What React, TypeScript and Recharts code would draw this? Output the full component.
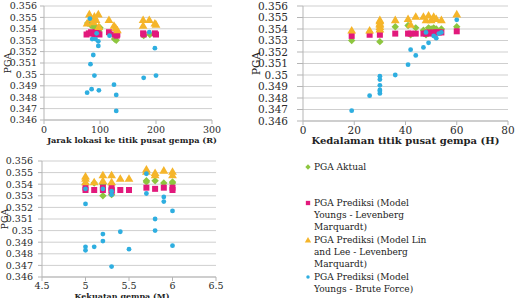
import React from "react";
import { ScatterChart, Scatter, XAxis, YAxis, CartesianGrid, Label } from "recharts";

type Pair = [number, number];

const serif = "DejaVu Serif, serif";
const textColor = "#2b2b2b";

const pgaTicks = [0.346, 0.347, 0.348, 0.349, 0.35, 0.351, 0.352, 0.353, 0.354, 0.355, 0.356];
const jarakTicks = [0, 100, 200, 300];
const kedalamanTicks = [0, 20, 40, 60, 80];
const kekuatanTicks = [4.5, 5, 5.5, 6, 6.5];

const seriesNames = [
  "PGA Aktual",
  "PGA Prediksi (Model\nYoungs - Levenberg\nMarquardt)",
  "PGA Prediksi (Model Lin\nand Lee - Levenberg\nMarquardt)",
  "PGA Prediksi (Model\nYoungs - Brute Force)",
];
const seriesColors = ["#8DC63F", "#E2197C", "#F5B52A", "#2EAEE0"];

// Jarak lokasi ke titik pusat gempa (R)
const jarakAktual: Pair[] = [
  [78, 0.3545], [84, 0.3543], [88, 0.3542], [92, 0.3542], [95, 0.354], [98, 0.3538],
  [100, 0.3541], [126, 0.3531], [129, 0.353], [178, 0.3534], [189, 0.3535],
];
const jarakYoungsLM: Pair[] = [
  [76, 0.3535], [80, 0.3536], [84, 0.3537], [88, 0.3536], [90, 0.3535], [93, 0.3537],
  [96, 0.3536], [99, 0.3535], [116, 0.3537], [126, 0.3535], [130, 0.3534], [131, 0.3535],
  [177, 0.3536], [178, 0.3535], [198, 0.3536], [200, 0.3535],
];
const jarakLinLeeLM: Pair[] = [
  [77, 0.3545], [81, 0.3553], [84, 0.3549], [88, 0.3546], [90, 0.3551], [93, 0.3548],
  [97, 0.3553], [98, 0.3542], [116, 0.3548], [125, 0.3543], [128, 0.3541], [131, 0.3539],
  [177, 0.3548], [177, 0.3543], [188, 0.3548], [198, 0.3545], [200, 0.3544],
];
const jarakYoungsBF: Pair[] = [
  [77, 0.3484], [82, 0.3549], [83, 0.3509], [85, 0.3487], [86, 0.3531], [88, 0.3517],
  [90, 0.3499], [92, 0.3531], [94, 0.3536], [97, 0.3529], [97, 0.3525], [98, 0.3486],
  [117, 0.3534], [125, 0.3491], [129, 0.3482], [129, 0.3468], [178, 0.3497], [188, 0.3537],
  [198, 0.3523], [200, 0.3499],
];

// Kedalaman titik pusat gempa (H)
const kedalamanAktual: Pair[] = [
  [19, 0.353], [26, 0.3537], [30, 0.3538], [30, 0.3529], [36, 0.3542], [41, 0.3543],
  [42, 0.3535], [44, 0.3541], [47, 0.3539], [48, 0.3535], [49, 0.3541], [50, 0.354],
  [51, 0.3541], [52, 0.354], [54, 0.354], [60, 0.3542],
];
const kedalamanYoungsLM: Pair[] = [
  [19, 0.3534], [26, 0.3535], [30, 0.3535], [36, 0.3536], [41, 0.3536], [42, 0.3536],
  [44, 0.3536], [47, 0.3536], [48, 0.3536], [49, 0.3537], [50, 0.3536], [51, 0.3537],
  [52, 0.3537], [53, 0.3537], [54, 0.3537], [60, 0.3538],
];
const kedalamanLinLeeLM: Pair[] = [
  [19, 0.3539], [26, 0.3539], [30, 0.354], [30, 0.3542], [30, 0.3544], [30, 0.3545],
  [30, 0.3547], [30, 0.3548], [36, 0.3548], [41, 0.3549], [42, 0.3544], [44, 0.3551],
  [47, 0.3551], [48, 0.3548], [49, 0.3552], [50, 0.3548], [51, 0.3551], [52, 0.3549],
  [54, 0.3548], [60, 0.3553],
];
const kedalamanYoungsBF: Pair[] = [
  [19, 0.3469], [26, 0.3482], [30, 0.3484], [30, 0.3486], [30, 0.3487], [30, 0.3491],
  [30, 0.3496], [30, 0.3499], [36, 0.35], [41, 0.3509], [42, 0.3522], [44, 0.3517],
  [47, 0.3524], [48, 0.3537], [49, 0.3528], [51, 0.3534], [52, 0.3532], [53, 0.3536],
  [54, 0.3537], [60, 0.3548],
];

// Kekuatan gempa (M)
const kekuatanAktual: Pair[] = [
  [5, 0.354], [5.1, 0.3541], [5.2, 0.354], [5.2, 0.353], [5.3, 0.354], [5.3, 0.3531],
  [5.7, 0.3543], [5.7, 0.3542], [5.8, 0.3543], [5.9, 0.3541], [6, 0.3542], [6, 0.3541],
];
const kekuatanYoungsLM: Pair[] = [
  [5, 0.3537], [5, 0.3535], [5.1, 0.3535], [5.2, 0.3537], [5.2, 0.3535], [5.3, 0.3537],
  [5.3, 0.3535], [5.3, 0.3534], [5.4, 0.3535], [5.5, 0.3535], [5.7, 0.3537], [5.8, 0.3536],
  [5.9, 0.3537], [6, 0.3537], [6, 0.3535],
];
const kekuatanLinLeeLM: Pair[] = [
  [5, 0.3547], [5, 0.3545], [5, 0.3542], [5.1, 0.3542], [5.2, 0.3548], [5.2, 0.3543],
  [5.3, 0.3548], [5.3, 0.3542], [5.4, 0.3545], [5.5, 0.3545], [5.7, 0.3553], [5.7, 0.3551],
  [5.8, 0.355], [5.8, 0.3548], [5.9, 0.3552], [6, 0.3551], [6, 0.3548],
];
const kekuatanYoungsBF: Pair[] = [
  [5, 0.3536], [5, 0.3523], [5, 0.3486], [5, 0.3483], [5.1, 0.3486], [5.2, 0.3536],
  [5.2, 0.3497], [5.2, 0.3491], [5.3, 0.3534], [5.3, 0.3531], [5.3, 0.3469], [5.4, 0.3499],
  [5.5, 0.3484], [5.7, 0.3549], [5.7, 0.3532], [5.8, 0.351], [5.8, 0.35], [5.9, 0.3529],
  [5.9, 0.3525], [6, 0.3517], [6, 0.3487],
];

type Kind = "diamond" | "square" | "triangle" | "dot";
const seriesKinds: Kind[] = ["diamond", "square", "triangle", "dot"];

const toPoints = (pairs: Pair[]) => pairs.map(([x, y]) => ({ x, y }));
const fmtPga = (v: number) => String(Number(v.toFixed(3)));

function Marker({ kind, cx, cy, color, s = 1 }: { kind: Kind; cx: number; cy: number; color: string; s?: number }) {
  if (kind === "diamond") {
    const r = 3.7 * s;
    return <polygon points={`${cx},${cy - r} ${cx + r},${cy} ${cx},${cy + r} ${cx - r},${cy}`} fill={color} />;
  }
  if (kind === "square") {
    const h = 3 * s;
    return <rect x={cx - h} y={cy - h} width={2 * h} height={2 * h} fill={color} />;
  }
  if (kind === "triangle") {
    return (
      <polygon
        points={`${cx},${cy - 4.2 * s} ${cx + 4.4 * s},${cy + 3.4 * s} ${cx - 4.4 * s},${cy + 3.4 * s}`}
        fill={color}
      />
    );
  }
  return <circle cx={cx} cy={cy} r={2.4 * s} fill={color} />;
}

type PanelProps = {
  left: number;
  top: number;
  width: number;
  height: number;
  margin: { top: number; right: number; bottom: number; left: number };
  yWidth: number;
  yTickSize: number;
  yTickMargin: number;
  xHeight: number;
  xTickMargin: number;
  xDomain: [number, number];
  xTicks: number[];
  tickFont: number;
  title: string;
  titleFont: number;
  titleOffset: number;
  titleDx: number;
  pgaOffset: number;
  series: Pair[][];
};

function Panel(p: PanelProps) {
  return (
    <div style={{ position: "absolute", left: p.left, top: p.top }}>
      <ScatterChart width={p.width} height={p.height} margin={p.margin}>
        <CartesianGrid vertical={false} stroke="#cfcfcf" />
        <XAxis
          type="number"
          dataKey="x"
          domain={p.xDomain}
          ticks={p.xTicks}
          interval={0}
          allowDataOverflow
          height={p.xHeight}
          stroke="#b5b5b5"
          tickSize={4}
          tickMargin={p.xTickMargin}
          tick={{ fill: textColor, fontSize: p.tickFont, fontFamily: serif }}
        >
          <Label
            value={p.title}
            position="insideBottom"
            offset={p.titleOffset}
            dx={p.titleDx}
            style={{ fontWeight: 700, fontSize: p.titleFont, fontFamily: serif, fill: "#222" }}
          />
        </XAxis>
        <YAxis
          type="number"
          dataKey="y"
          domain={[0.346, 0.356]}
          ticks={pgaTicks}
          interval={0}
          allowDataOverflow
          width={p.yWidth}
          stroke="#b5b5b5"
          tickSize={p.yTickSize}
          tickMargin={p.yTickMargin}
          tickFormatter={fmtPga}
          tick={{ fill: textColor, fontSize: p.tickFont, fontFamily: serif }}
        >
          <Label
            value="PGA"
            angle={-90}
            position="insideLeft"
            offset={p.pgaOffset}
            style={{ textAnchor: "middle", fontSize: p.tickFont, fontFamily: serif, fill: "#222" }}
          />
        </YAxis>
        {p.series.map((pairs, i) => (
          <Scatter
            key={i}
            name={seriesNames[i]}
            data={toPoints(pairs)}
            fill={seriesColors[i]}
            isAnimationActive={false}
            shape={(sp: any) => <Marker kind={seriesKinds[i]} cx={sp.cx} cy={sp.cy} color={seriesColors[i]} />}
          />
        ))}
      </ScatterChart>
    </div>
  );
}

const legendTops = [161, 197, 234, 271];

function SeriesLegend() {
  return (
    <div style={{ position: "absolute", left: 303, top: 0 }}>
      {seriesNames.map((name, i) => (
        <div key={name} style={{ position: "absolute", top: legendTops[i], left: 0, display: "flex" }}>
          <svg width={10} height={12} style={{ flex: "none" }}>
            <Marker kind={seriesKinds[i]} cx={5} cy={6} color={seriesColors[i]} s={0.72} />
          </svg>
          <div
            style={{
              marginLeft: 1,
              whiteSpace: "pre",
              fontFamily: serif,
              fontSize: 9,
              lineHeight: "12px",
              color: "#222",
            }}
          >
            {name}
          </div>
        </div>
      ))}
    </div>
  );
}

export default function App() {
  return (
    <div style={{ position: "relative", width: 519, height: 298, overflow: "hidden", background: "#fff", fontFamily: serif }}>
      <style>{"body{margin:0;overflow:hidden}"}</style>
      <Panel
        left={0}
        top={0}
        width={230}
        height={150}
        margin={{ top: 6, right: 18, bottom: 0, left: 0 }}
        yWidth={44}
        yTickSize={4}
        yTickMargin={3}
        xHeight={30}
        xTickMargin={2}
        xDomain={[0, 300]}
        xTicks={jarakTicks}
        tickFont={9.5}
        title="Jarak lokasi ke titik pusat gempa (R)"
        titleFont={8.2}
        titleOffset={7.5}
        titleDx={4}
        pgaOffset={8}
        series={[jarakAktual, jarakYoungsLM, jarakLinLeeLM, jarakYoungsBF]}
      />
      <Panel
        left={247}
        top={0}
        width={272}
        height={150}
        margin={{ top: 6, right: 11, bottom: 0, left: 0 }}
        yWidth={56}
        yTickSize={6}
        yTickMargin={9}
        xHeight={29}
        xTickMargin={2}
        xDomain={[0, 80]}
        xTicks={kedalamanTicks}
        tickFont={10.5}
        title="Kedalaman titik pusat gempa (H)"
        titleFont={10}
        titleOffset={6}
        titleDx={0}
        pgaOffset={9}
        series={[kedalamanAktual, kedalamanYoungsLM, kedalamanLinLeeLM, kedalamanYoungsBF]}
      />
      <Panel
        left={0}
        top={150}
        width={230}
        height={160}
        margin={{ top: 11, right: 14, bottom: 0, left: 0 }}
        yWidth={42}
        yTickSize={4}
        yTickMargin={5}
        xHeight={33}
        xTickMargin={1}
        xDomain={[4.5, 6.5]}
        xTicks={kekuatanTicks}
        tickFont={9.5}
        title="Kekuatan gempa (M)"
        titleFont={8}
        titleOffset={11}
        titleDx={-7}
        pgaOffset={5}
        series={[kekuatanAktual, kekuatanYoungsLM, kekuatanLinLeeLM, kekuatanYoungsBF]}
      />
      <SeriesLegend />
    </div>
  );
}
